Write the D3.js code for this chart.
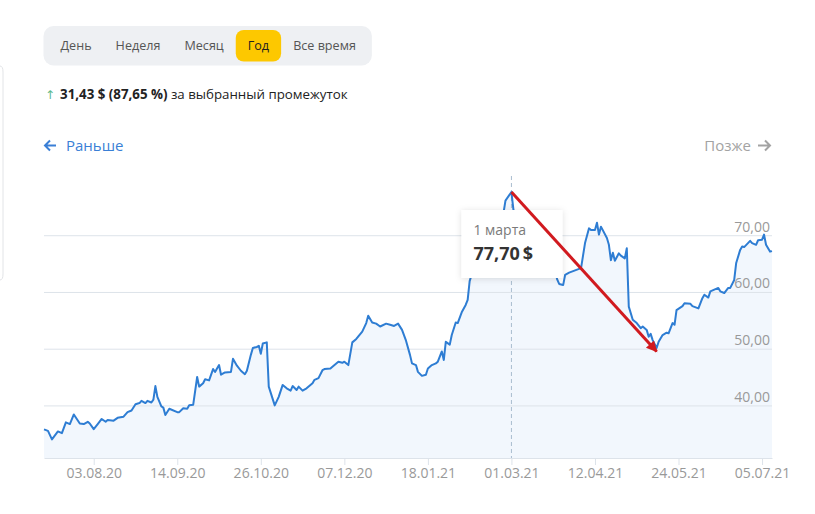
<!DOCTYPE html>
<html><head><meta charset="utf-8">
<script src="https://cdn.jsdelivr.net/npm/d3@7"></script>
<style>
html,body{margin:0;padding:0;background:#fff;}
svg{display:block;font-family:"Open Sans","DejaVu Sans",sans-serif;}
</style></head><body>
<svg id="chart" width="815" height="514"></svg>
<script>
const periods = ["День", "Неделя", "Месяц", "Год", "Все время"];
const selectedPeriod = "Год";
const changeAbs = "31,43 $";
const changePct = "(87,65 %)";
const changeText = "за выбранный промежуток";
const navPrev = "Раньше";
const navNext = "Позже";

const dates = [
"2020-07-09","2020-07-11","2020-07-13","2020-07-16","2020-07-18","2020-07-20","2020-07-22","2020-07-24","2020-07-27","2020-07-29","2020-07-31",
"2020-08-01","2020-08-03","2020-08-05","2020-08-07","2020-08-09","2020-08-10","2020-08-13","2020-08-15","2020-08-18","2020-08-20","2020-08-22","2020-08-24","2020-08-26","2020-08-27","2020-08-29","2020-08-30",
"2020-09-01","2020-09-02","2020-09-03","2020-09-04","2020-09-06","2020-09-07","2020-09-08","2020-09-10","2020-09-14","2020-09-15","2020-09-17","2020-09-19","2020-09-20","2020-09-22","2020-09-24","2020-09-25","2020-09-27","2020-09-28","2020-09-30",
"2020-10-02","2020-10-03","2020-10-04","2020-10-05","2020-10-06","2020-10-08","2020-10-11","2020-10-12","2020-10-14","2020-10-16","2020-10-18","2020-10-19","2020-10-21","2020-10-22","2020-10-24","2020-10-25","2020-10-26","2020-10-27","2020-10-29","2020-10-30",
"2020-11-02","2020-11-04","2020-11-06","2020-11-08","2020-11-10","2020-11-11","2020-11-13","2020-11-14","2020-11-16","2020-11-18","2020-11-21","2020-11-22","2020-11-24","2020-11-26","2020-11-27","2020-11-30",
"2020-12-01","2020-12-04","2020-12-06","2020-12-07","2020-12-09","2020-12-11","2020-12-13","2020-12-16","2020-12-18","2020-12-19","2020-12-21","2020-12-23","2020-12-25","2020-12-28","2020-12-30",
"2021-01-01","2021-01-03","2021-01-05","2021-01-07","2021-01-09","2021-01-10","2021-01-12","2021-01-13","2021-01-15","2021-01-17","2021-01-18","2021-01-20","2021-01-22","2021-01-23","2021-01-25","2021-01-26","2021-01-27","2021-01-29","2021-01-30",
"2021-02-01","2021-02-02","2021-02-04","2021-02-06","2021-02-07","2021-02-08","2021-02-11","2021-02-13","2021-02-16","2021-02-18","2021-02-21","2021-02-23","2021-02-25","2021-02-26",
"2021-03-01","2021-03-02","2021-03-05","2021-03-09","2021-03-13","2021-03-17","2021-03-20","2021-03-22","2021-03-24","2021-03-25","2021-03-27","2021-03-28","2021-03-30",
"2021-04-02","2021-04-05","2021-04-07","2021-04-09","2021-04-10","2021-04-12","2021-04-13","2021-04-14","2021-04-15","2021-04-18","2021-04-19","2021-04-20","2021-04-21","2021-04-22","2021-04-24","2021-04-25","2021-04-27","2021-04-28","2021-04-29",
"2021-05-01","2021-05-03","2021-05-05","2021-05-06","2021-05-08","2021-05-09","2021-05-10","2021-05-11","2021-05-13","2021-05-14","2021-05-16","2021-05-18","2021-05-19","2021-05-21","2021-05-22","2021-05-23","2021-05-26","2021-05-27","2021-05-30","2021-05-31",
"2021-06-03","2021-06-05","2021-06-06","2021-06-08","2021-06-09","2021-06-11","2021-06-13","2021-06-14","2021-06-16","2021-06-18","2021-06-19","2021-06-21","2021-06-22","2021-06-24","2021-06-25","2021-06-26","2021-06-29","2021-06-30",
"2021-07-02","2021-07-03","2021-07-05","2021-07-06","2021-07-07","2021-07-09","2021-07-10"
];
const prices = [
35.86,35.6,34.1,35.5,35.2,37.1,36.8,38.5,36.9,36.8,37.2,
36.9,35.9,36.8,37.7,37.2,37.5,37.4,37.9,38.1,38.9,39.2,40.3,40.5,40.9,40.5,40.9,
40.6,41.1,43.5,41.6,39.9,39.7,38.4,39.5,38.9,38.9,39.6,39.5,40.1,40.2,45.1,43.4,44.0,44.7,44.5,
46.5,46.0,46.6,47.2,45.5,45.9,46.0,48.3,47.1,46.2,45.6,46.2,49.0,50.2,50.4,50.6,49.2,51.0,51.2,43.4,
40.1,41.6,43.7,43.1,42.7,43.5,42.8,43.4,42.7,43.1,44.0,44.6,44.9,46.3,46.5,46.6,
46.9,47.8,47.6,47.8,47.2,51.2,51.8,53.1,54.6,55.9,54.7,54.5,54.0,54.5,54.3,
54.1,54.5,53.4,51.5,49.0,47.5,47.2,46.0,45.3,45.5,46.6,47.2,47.5,47.8,49.6,48.1,51.3,50.8,52.5,
54.7,54.6,56.5,57.8,58.7,62.0,65.5,67.5,69.0,70.5,72.0,73.0,74.0,76.2,
77.70,74.6,72.0,70.0,68.0,67.0,66.0,65.0,62.3,61.5,61.3,63.1,63.5,
63.9,64.3,68.7,71.3,71.0,71.0,72.3,70.2,71.6,69.6,68.4,65.7,67.0,65.6,66.9,66.5,66.0,67.8,57.5,
55.2,54.6,53.7,54.0,53.4,52.2,52.7,51.6,50.2,51.3,52.5,52.9,52.8,54.6,54.3,56.9,57.6,58.1,58.0,57.6,
57.2,59.0,59.6,59.1,60.2,60.5,60.8,60.2,59.9,60.8,60.8,62.2,65.2,67.5,68.1,68.0,69.1,68.7,
68.4,69.2,69.3,70.2,68.4,67.2,67.29
];
const xTickDates = ["2020-08-03","2020-09-14","2020-10-26","2020-12-07","2021-01-18","2021-03-01","2021-04-12","2021-05-24","2021-07-05"];
const yTicks = [40, 50, 60, 70];
const tooltipDate = "2021-03-01";
const tooltipLabel = "1 марта";
const tooltipValue = 77.70;
const arrowFrom = {date: "2021-03-01", value: 77.70};
const arrowTo = {date: "2021-05-13", value: 49.6};

const parse = d3.timeParse("%Y-%m-%d");
const data = dates.map((d, i) => ({date: parse(d), value: prices[i]}));
const svg = d3.select("#chart");
const plot = {left: 44, right: 772, top: 179, bottom: 458};

const x = d3.scaleTime().domain(d3.extent(data, d => d.date)).range([plot.left, plot.right]);
const y = d3.scaleLinear().domain([30.82, 80]).range([plot.bottom, plot.top]);
const fmtNum = v => d3.format(".2f")(v).replace(".", ",");

// defs
const defs = svg.append("defs");
const f = defs.append("filter").attr("id", "shadow").attr("x", "-20%").attr("y", "-20%").attr("width", "140%").attr("height", "150%");
f.append("feDropShadow").attr("dx", 0).attr("dy", 1).attr("stdDeviation", 3).attr("flood-color", "#000").attr("flood-opacity", 0.13);
defs.append("marker").attr("id", "arrowhead").attr("viewBox", "0 0 10 10")
  .attr("refX", 9).attr("refY", 5).attr("markerWidth", 16).attr("markerHeight", 11)
  .attr("markerUnits", "userSpaceOnUse").attr("orient", "auto")
  .append("path").attr("d", "M0,0L10,5L0,10z").attr("fill", "#d11a1f");

// left page card edge
svg.append("path").attr("d", "M0,66 Q3,66 3,72 L3,274 Q3,280 0,280")
  .attr("fill", "none").attr("stroke", "#e2e4e7").attr("stroke-width", 1);

// period selector
const sel = svg.append("g");
const selBg = sel.append("rect").attr("x", 43.5).attr("y", 26).attr("height", 39.5).attr("rx", 10).attr("fill", "#eef0f3");
const hl = sel.append("g");
let bx = 48.5;
periods.forEach(p => {
  const t = sel.append("text").attr("y", 50).attr("font-size", 12.6).text(p)
    .attr("fill", p === selectedPeriod ? "#222" : "#555");
  const w = t.node().getComputedTextLength();
  if (p === selectedPeriod) {
    hl.append("rect").attr("x", bx).attr("y", 30).attr("width", w + 24).attr("height", 31.5)
      .attr("rx", 8).attr("fill", "#fdc800");
  }
  t.attr("x", bx + 12);
  bx += w + 24;
});
selBg.attr("width", bx + 4 - 43.5);

// change line
const ch = svg.append("text").attr("x", 45).attr("y", 99).attr("font-size", 13.3).attr("fill", "#222");
ch.append("tspan").attr("fill", "#5bb98a").attr("font-size", 12).attr("font-family", "DejaVu Sans").text("↑");
ch.append("tspan").attr("dx", 5).attr("font-weight", 700).text(changeAbs + " " + changePct);
ch.append("tspan").text(" " + changeText);

// navigation
const arrowPath = (x0, x1, yy, dir) => {
  const tip = dir < 0 ? x0 : x1;
  return `M${x0},${yy}H${x1}M${tip - dir * 5},${yy - 5}L${tip},${yy}L${tip - dir * 5},${yy + 5}`;
};
svg.append("path").attr("d", arrowPath(45, 56, 145.5, -1)).attr("fill", "none")
  .attr("stroke", "#3a7fd6").attr("stroke-width", 2);
svg.append("text").attr("x", 66).attr("y", 151).attr("font-size", 15).attr("fill", "#3a7fd6").text(navPrev);
svg.append("text").attr("x", 751).attr("y", 151).attr("font-size", 15).attr("fill", "#a3a3a3").attr("text-anchor", "end").text(navNext);
svg.append("path").attr("d", arrowPath(758, 770, 145.5, 1)).attr("fill", "none")
  .attr("stroke", "#a3a3a3").attr("stroke-width", 2);

// area
svg.append("path").datum(data)
  .attr("d", d3.area().x(d => x(d.date)).y0(plot.bottom).y1(d => y(d.value)))
  .attr("fill", "#f2f7fd");

// grid
const grid = svg.append("g");
yTicks.forEach(t => {
  grid.append("line").attr("x1", plot.left).attr("x2", plot.right).attr("y1", y(t)).attr("y2", y(t))
    .attr("stroke", "#dde3ea").attr("stroke-width", 1);
  grid.append("text").attr("x", 770).attr("y", y(t) - 4).attr("text-anchor", "end")
    .attr("font-size", 14).attr("fill", "#999").text(fmtNum(t));
});

// x axis
const xAxis = d3.axisBottom(x)
  .tickValues(xTickDates.map(parse))
  .tickFormat(d3.timeFormat("%d.%m.%y"))
  .tickSize(7).tickSizeOuter(0);
const gx = svg.append("g").attr("transform", `translate(0,${plot.bottom})`).call(xAxis);
gx.select(".domain").attr("stroke", "#dde3ea");
gx.selectAll(".tick line").attr("stroke", "#dde3ea");
gx.selectAll(".tick text").attr("fill", "#999").attr("font-size", 14).attr("font-family", "Open Sans");

// dashed hover line
const tx = x(parse(tooltipDate));
svg.append("line").attr("x1", tx).attr("x2", tx).attr("y1", 176).attr("y2", plot.bottom)
  .attr("stroke", "#a9bccf").attr("stroke-dasharray", "4,3");

// price line
svg.append("path").datum(data)
  .attr("d", d3.line().x(d => x(d.date)).y(d => y(d.value)))
  .attr("fill", "none").attr("stroke", "#2e7dd3").attr("stroke-width", 2).attr("stroke-linejoin", "round");

// tooltip
const tip = svg.append("g").attr("transform", `translate(${tx - 50},210)`);
tip.append("rect").attr("width", 101).attr("height", 68).attr("fill", "#fff").attr("filter", "url(#shadow)");
tip.append("text").attr("x", 12).attr("y", 25).attr("font-size", 14).attr("fill", "#7a7a7a").text(tooltipLabel);
tip.append("text").attr("x", 12).attr("y", 49.5).attr("font-size", 18).attr("font-weight", 700).attr("fill", "#333")
  .text(fmtNum(tooltipValue) + "\u2009$");

// red arrow annotation
svg.append("line")
  .attr("x1", x(parse(arrowFrom.date))).attr("y1", y(arrowFrom.value))
  .attr("x2", x(parse(arrowTo.date))).attr("y2", y(arrowTo.value))
  .attr("stroke", "#d11a1f").attr("stroke-width", 3).attr("marker-end", "url(#arrowhead)");
</script>
</body></html>
